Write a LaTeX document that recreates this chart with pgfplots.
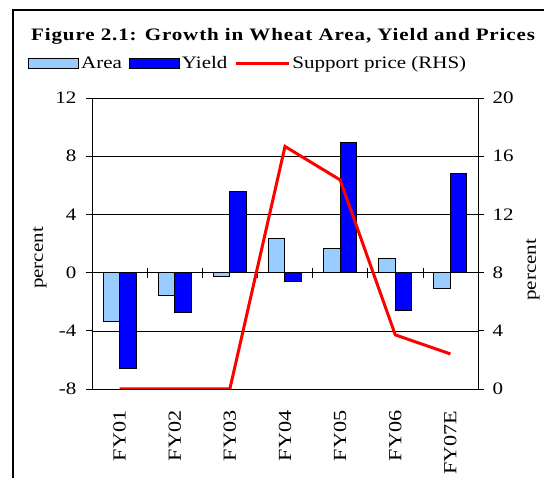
\documentclass[border=0pt]{standalone}
\usepackage{fontspec}
\setmainfont{Liberation Serif}[FakeStretch=1.2]
\usepackage{pgfplots}
\pgfplotsset{compat=1.18}
\definecolor{areablue}{RGB}{153,204,255}
\definecolor{yieldblue}{RGB}{0,0,255}
\newcommand{\tfont}{\fontsize{17.5}{21}\selectfont}
\begin{document}
\begin{tikzpicture}[x=1pt,y=1pt]
\useasboundingbox (-92,-89) rectangle (452,389);
\draw[line width=2.2pt] (-79,-100) -- (-79,379) -- (560,379);
\node[anchor=base west, inner sep=0pt, font=\bfseries\fontsize{17.5}{21}\selectfont\addfontfeature{LetterSpace=5}] at (-61,348) {Figure 2.1: Growth in Wheat Area, Yield and Prices};
\begin{axis}[
  at={(0,0)}, anchor=south west, scale only axis,
  width=386pt, height=291pt,
  xmin=-0.5, xmax=6.5, ymin=-8, ymax=12,
  ytick={-8,-4,0,4,8,12},
  xtick={0,1,2,3,4,5,6},
  xticklabels={FY01,FY02,FY03,FY04,FY05,FY06,FY07E},
  x tick style={draw=none},
  xticklabel style={yshift=-12pt, rotate=90, anchor=east, font=\fontsize{18.5}{22}\selectfont},
  yticklabel style={xshift=-6pt},
  axis y line*=left, axis x line*=bottom,
  tick align=outside, major tick length=6pt,
  y tick style={black, line width=0.6pt},
  axis line style={black, line width=0.8pt},
  ymajorgrids, grid style={black, line width=0.5pt},
  ybar=0pt, bar width=16.5pt,
  tick label style={font=\tfont},
  /pgf/number format/assume math mode=true,
  ylabel={percent},
  every axis y label/.style={at={(axis description cs:-0.135,0.45)}, anchor=center, rotate=90, font=\tfont},
]
\addplot[fill=areablue, draw=black, line width=1pt] coordinates {(0,-3.35) (1,-1.55) (2,-0.27) (3,2.33) (4,1.68) (5,1.0) (6,-1.06)};
\addplot[fill=yieldblue, draw=black, line width=1pt] coordinates {(0,-6.57) (1,-2.72) (2,5.54) (3,-0.64) (4,8.94) (5,-2.6) (6,6.83)};
\draw[black, line width=0.6pt] (axis cs:-0.5,0) -- (axis cs:6.5,0);
\pgfplotsinvokeforeach{0.5,1.5,2.5,3.5,4.5,5.5}{
  \draw[black, line width=0.6pt] (axis cs:#1,-0.35) -- (axis cs:#1,0.35);
}
\end{axis}
\begin{axis}[
  at={(0,0)}, anchor=south west, scale only axis,
  width=386pt, height=291pt,
  xmin=-0.5, xmax=6.5, ymin=0, ymax=20,
  ytick={0,4,8,12,16,20},
  axis y line*=right, axis x line=none,
  tick align=outside, major tick length=6pt,
  y tick style={black, line width=0.6pt},
  yticklabel style={xshift=5pt},
  axis line style={black, line width=0.8pt},
  tick label style={font=\tfont},
  /pgf/number format/assume math mode=true,
  ylabel={percent},
  every axis y label/.style={at={(axis description cs:1.142,0.41)}, anchor=center, rotate=90, font=\tfont},
  legend columns=3,
  legend style={at={(axis description cs:-0.166,1.12)}, anchor=west, draw=none, fill=none, inner sep=0pt, font=\tfont,
    /tikz/every even column/.append style={column sep=5pt}},
]
\addlegendimage{legend image code/.code={\draw[fill=areablue,draw=black,line width=1pt] (0pt,-5pt) rectangle (50pt,5pt);}}
\addlegendentry{Area}
\addlegendimage{legend image code/.code={\draw[fill=yieldblue,draw=black,line width=1pt] (0pt,-5pt) rectangle (50pt,5pt);}}
\addlegendentry{Yield}
\addplot[red, line width=3pt, mark=none, legend image code/.code={\draw[red, line width=3pt] (0pt,0pt) -- (53pt,0pt);}] coordinates {(0,0) (1,0) (2,0) (3,16.67) (4,14.37) (5,3.72) (6,2.41)};
\addlegendentry{Support price (RHS)}
\end{axis}
\end{tikzpicture}
\end{document}
